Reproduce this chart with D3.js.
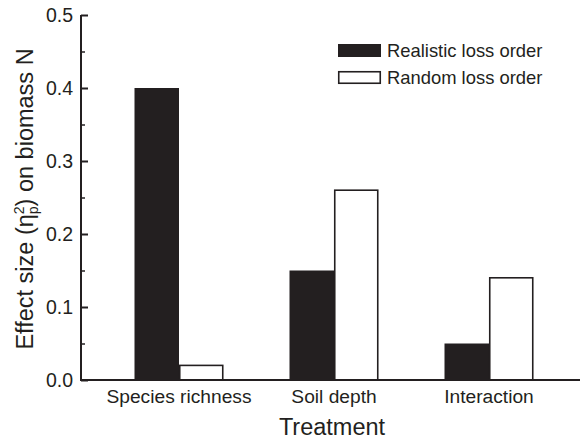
<!DOCTYPE html>
<html><head><meta charset="utf-8">
<script src="https://cdn.jsdelivr.net/npm/d3@7"></script>
<style>body{margin:0;background:#fff}svg{display:block}text{font-family:"Liberation Sans",Arial,sans-serif;fill:#231f20}</style>
</head><body><svg id="c" width="581" height="441"></svg>
<script>
const categories = ["Species richness", "Soil depth", "Interaction"];
const series = ["Realistic loss order", "Random loss order"];
const realistic = [0.40, 0.15, 0.05];
const random = [0.02, 0.26, 0.14];
const yTicks = [0.0, 0.1, 0.2, 0.3, 0.4, 0.5];
const yMinorTicks = [0.05, 0.15, 0.25, 0.35, 0.45];

const ink = "#231f20";
const svg = d3.select("#c");
const axisX0 = 81, axisX1 = 580;
const y = d3.scaleLinear().domain([0, 0.5]).range([380, 15]);
const x = d3.scaleBand().domain(categories).range([101.5, 566.5]).padding(0);
const xSub = d3.scaleBand().domain(series)
  .range([x.bandwidth()/2 - 44.5, x.bandwidth()/2 + 44.5]).padding(0);

const data = categories.map((c,i)=>({cat:c, vals:[{s:series[0], v:realistic[i]},{s:series[1], v:random[i]}]}));

const g = svg.append("g");
g.selectAll("g.grp").data(data).join("g")
  .attr("transform", d=>`translate(${x(d.cat)},0)`)
  .selectAll("rect").data(d=>d.vals).join("rect")
  .attr("x", d=>xSub(d.s) + (d.s===series[1]?0.75:0))
  .attr("width", d=>xSub.bandwidth() - (d.s===series[1]?1.5:0))
  .attr("y", d=>y(d.v))
  .attr("height", d=>y(0)-y(d.v))
  .attr("fill", d=>d.s===series[0]?ink:"#fff")
  .attr("stroke", d=>d.s===series[0]?"none":ink)
  .attr("stroke-width", 1.6);

// y axis
const yAxis = d3.axisRight(y).tickValues(yTicks).tickSize(7).tickFormat("");
const ya = svg.append("g").attr("transform",`translate(${axisX0},0)`).call(yAxis);
ya.select(".domain").remove();
ya.selectAll("line").attr("stroke", ink).attr("stroke-width", 2);
const yMinor = d3.axisRight(y).tickValues(yMinorTicks).tickSize(4).tickFormat("");
const ym = svg.append("g").attr("transform",`translate(${axisX0},0)`).call(yMinor);
ym.select(".domain").remove();
ym.selectAll("line").attr("stroke", ink).attr("stroke-width", 1.5);
svg.append("g").selectAll("text").data(yTicks).join("text")
  .attr("x", 73).attr("y", d=>y(d)).attr("dy","0.35em")
  .attr("text-anchor","end").attr("font-size",19.5)
  .text(d=>d3.format(".1f")(d));

// axis lines
svg.append("line").attr("x1",axisX0).attr("x2",axisX0).attr("y1",y(0.5)).attr("y2",y(0)+1)
  .attr("stroke",ink).attr("stroke-width",2);
svg.append("line").attr("x1",axisX0-1).attr("x2",axisX1).attr("y1",y(0)).attr("y2",y(0))
  .attr("stroke",ink).attr("stroke-width",2);

// x labels
svg.append("g").selectAll("text").data(categories).join("text")
  .attr("x", d=>x(d)+x.bandwidth()/2).attr("y", 403)
  .attr("text-anchor","middle").attr("font-size",19.2)
  .text(d=>d);

svg.append("text").attr("x",332).attr("y",435).attr("text-anchor","middle")
  .attr("font-size",23.5).text("Treatment");

// y title
const yt = svg.append("text").attr("transform","translate(33,199) rotate(-90)")
  .attr("text-anchor","middle").attr("font-size",23.5);
yt.append("tspan").text("Effect size (η");
yt.append("tspan").attr("font-size",14).attr("dy",-9).text("2");
yt.append("tspan").attr("font-size",14).attr("dx",-7.8).attr("dy",14).text("p");
yt.append("tspan").attr("dy",-5).text(") on biomass N");

// legend
const leg = svg.append("g").selectAll("g").data(series).join("g")
  .attr("transform",(d,i)=>`translate(338,${44 + i*27})`);
leg.append("rect").attr("x",(d,i)=>i?0.75:0).attr("y",(d,i)=>i?0.75:0)
  .attr("width",(d,i)=>i?41.5:43).attr("height",(d,i)=>i?11.5:13)
  .attr("fill",(d,i)=>i?"#fff":ink).attr("stroke",(d,i)=>i?ink:"none").attr("stroke-width",1.6);
leg.append("text").attr("x",49).attr("y",13.3).attr("font-size",18.4).text(d=>d);
</script></body></html>
